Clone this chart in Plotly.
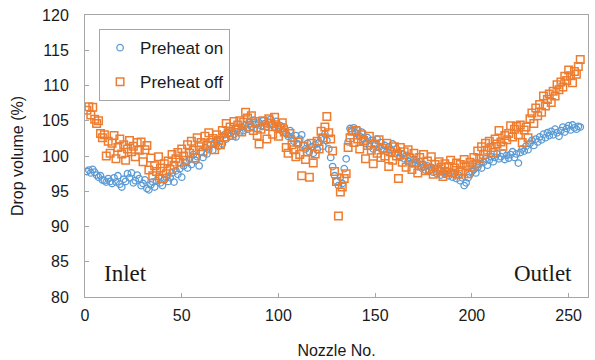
import plotly.graph_objects as go

nozzle = list(range(1, 257))

preheat_on = [
    97.8, 98.0, 97.6, 98.1, 97.7, 97.3, 97.0, 97.2, 96.6, 96.5, 96.3, 96.8, 96.4, 96.1, 96.9, 96.3,
    97.2, 96.0, 95.6, 96.7, 96.4, 97.5, 96.9, 97.6, 96.2, 96.5, 97.3, 96.8, 95.8, 96.1, 96.6, 95.4,
    95.2, 95.9, 96.3, 95.6, 96.5, 97.1, 96.2, 95.8, 96.6, 97.0, 96.4, 96.9, 97.6, 96.3, 97.9, 97.4,
    98.2, 97.0, 98.6, 99.1, 98.3, 99.5, 98.8, 100.2, 99.4, 99.9, 98.6, 100.6, 99.8, 101.2, 100.3, 100.9,
    101.6, 100.8, 101.9, 102.3, 101.4, 102.6, 101.7, 103.0, 102.4, 103.3, 102.8, 103.6, 103.1, 102.7, 103.9, 103.4,
    104.1, 103.6, 104.4, 103.8, 104.9, 104.2, 105.1, 104.5, 103.9, 104.7, 104.3, 105.0, 104.6, 104.1, 104.8, 105.2,
    104.5, 104.0, 104.9, 103.8, 104.3, 103.5, 104.1, 103.2, 102.8, 103.6, 102.5, 102.1, 102.9, 101.7, 102.4, 103.0,
    101.5, 101.0, 101.8, 100.6, 101.3, 100.4, 101.6, 100.9, 101.9, 102.5, 101.4, 103.1, 102.2, 101.0, 99.8, 98.5,
    97.2, 96.4, 95.8, 97.0, 96.1, 98.2, 99.6, 102.0, 103.9, 103.5, 104.0, 103.2, 103.7, 102.8, 103.4, 102.5,
    101.8, 102.6, 101.4, 102.2, 101.0, 101.7, 102.4, 101.2, 101.9, 100.8, 101.5, 100.6, 101.3, 100.9, 101.7, 100.4,
    101.0, 100.5, 99.8, 100.3, 99.6, 100.1, 99.2, 99.8, 98.9, 99.5, 99.0, 98.5, 99.2, 98.3, 98.8, 98.0,
    98.6, 97.9, 98.4, 97.7, 98.2, 97.5, 98.0, 97.3, 97.8, 97.4, 97.9, 97.2, 97.6, 97.0, 97.5, 96.8,
    97.3, 96.5, 96.9, 95.8, 96.2, 96.9, 97.4, 97.8, 98.1, 97.6, 98.4, 98.9, 98.3, 99.1, 99.6, 98.7,
    99.4, 99.9, 99.2, 99.8, 100.3, 99.6, 99.9, 100.4, 99.5, 100.1, 99.7, 100.2, 100.6, 99.8, 100.3, 99.0,
    100.5, 101.0, 100.7, 101.4, 100.9, 101.8, 102.2, 101.5, 102.4, 102.0, 102.7, 102.3, 103.1, 102.6, 103.3, 102.9,
    103.5, 103.0, 103.8, 103.3, 102.8, 103.6, 104.1, 103.4, 103.9, 104.3, 103.7, 104.4, 104.0, 103.8, 104.2, 104.1,
]

preheat_off = [
    106.5, 107.0, 105.8, 106.9, 105.2, 104.6, 105.0, 103.2, 102.6, 103.0, 100.0, 102.1, 100.4, 101.8, 102.9, 99.6,
    101.2, 102.4, 100.3, 101.6, 99.4, 101.0, 102.2, 100.6, 101.4, 99.9, 101.9, 100.8, 102.0, 99.2, 100.9, 101.5,
    98.0, 99.7, 97.2, 98.6, 97.8, 99.9, 98.3, 96.8, 98.9, 97.5, 99.3, 98.1, 100.2, 98.7, 99.6, 100.5,
    99.1, 101.0, 100.0, 99.4, 101.6, 100.4, 102.1, 100.8, 99.7, 102.6, 101.3, 101.9, 100.6, 102.8, 101.5, 103.3,
    101.9, 102.5, 100.9, 103.0, 102.2, 101.6, 103.6, 102.7, 104.6, 103.3, 104.1, 102.9, 104.9, 103.7, 104.4, 105.0,
    103.4, 104.8, 106.2, 105.4, 104.1, 105.7, 103.6, 104.9, 102.9, 101.7, 103.8, 105.0, 104.3, 102.4, 105.3, 104.6,
    103.1, 105.5, 104.2, 102.8, 104.0, 104.7, 103.4, 101.2, 100.4, 103.2, 101.6, 100.9, 99.9, 102.0, 100.2, 97.2,
    101.4, 99.5, 100.6, 97.0, 101.8, 99.0, 100.3, 102.1, 101.0, 103.5, 102.6, 104.1, 105.6, 103.3, 102.4, 100.7,
    97.8, 96.4, 91.5, 94.9, 95.6, 96.8, 97.5, 101.2, 102.6, 103.5, 101.9, 103.6, 102.4, 101.0, 103.0, 102.2,
    99.6, 101.5, 102.8, 100.8, 98.9, 101.7, 100.4, 102.3, 99.8, 101.1, 100.0, 101.8, 98.5, 100.6, 99.4, 101.3,
    100.0, 96.8, 101.2, 99.1, 100.6, 98.4, 100.9, 99.7, 98.1, 100.4, 99.0, 97.6, 99.8, 98.6, 100.2, 97.9,
    99.3, 98.2, 99.9, 97.4, 98.8, 97.9, 99.2, 98.4, 97.1, 98.9, 97.7, 98.5, 99.4, 97.6, 98.3, 99.0,
    97.4, 98.8, 97.9, 99.5, 98.6, 97.5, 99.1, 98.4, 99.8, 98.9, 100.7, 99.6, 101.3, 100.2, 101.8, 100.8,
    102.1, 101.2, 100.5, 102.4, 101.7, 103.6, 102.0, 101.4, 102.9, 102.3, 103.2, 104.3, 102.7, 103.8, 104.2, 103.0,
    104.4, 101.9, 103.7, 104.1, 102.6, 105.3, 106.1, 104.6, 106.8, 105.7, 107.3, 106.2, 108.5, 107.1, 108.0, 108.8,
    107.6, 109.2, 108.5, 110.1, 109.4, 110.5, 109.8, 111.3, 110.7, 112.2, 111.4, 110.4, 112.0, 111.6, 112.7, 113.7,
]

x_ticks = [0, 50, 100, 150, 200, 250]
y_ticks = [80, 85, 90, 95, 100, 105, 110, 115, 120]

BLUE = "#5B9BD5"
ORANGE = "#ED7D31"
AXIS = "#A6A6A6"
TXT = "#1a1a1a"

fig = go.Figure()
fig.add_trace(go.Scatter(
    x=nozzle, y=preheat_on, mode="markers", name="Preheat on", legendgroup="a",
    marker=dict(symbol="circle-open", size=6.5, color=BLUE, line=dict(width=1.3, color=BLUE)),
))
fig.add_trace(go.Scatter(
    x=nozzle, y=preheat_off, mode="markers", name="Preheat off", legendgroup="b",
    marker=dict(symbol="square-open", size=7.5, color=ORANGE, line=dict(width=1.5, color=ORANGE)),
))

fig.add_annotation(x=9, y=83.3, text="Inlet", showarrow=False, xanchor="left",
                   font=dict(family="Liberation Serif", size=23, color=TXT))
fig.add_annotation(x=253, y=83.3, text="Outlet", showarrow=False, xanchor="right",
                   font=dict(family="Liberation Serif", size=23, color=TXT))

fig.update_layout(
    width=595, height=360,
    margin=dict(l=85, r=7, t=15, b=63),
    paper_bgcolor="white", plot_bgcolor="white",
    font=dict(family="Liberation Sans, Arial", size=16, color=TXT),
    legend=dict(
        x=0.028, y=0.95, xanchor="left", yanchor="top",
        bordercolor="#A6A6A6", borderwidth=1, bgcolor="white",
        font=dict(size=17, color=TXT),
        traceorder="grouped", tracegroupgap=9,
    ),
    xaxis=dict(
        range=[0, 260], tickvals=x_ticks, showgrid=False, zeroline=False,
        showline=True, linecolor=AXIS, linewidth=1, mirror=True,
        ticks="inside", ticklen=4, tickcolor=AXIS,
        tickfont=dict(size=16, color=TXT), ticklabelstandoff=4,
        automargin=False,
        title=dict(text="Nozzle No.", font=dict(size=16, color=TXT), standoff=21),
    ),
    yaxis=dict(
        range=[80, 120], tickvals=y_ticks, showgrid=False, zeroline=False,
        showline=True, linecolor=AXIS, linewidth=1, mirror=True,
        ticks="inside", ticklen=4, tickcolor=AXIS,
        tickfont=dict(size=16, color=TXT), ticklabelstandoff=12,
        automargin=False,
        title=dict(text="Drop volume (%)", font=dict(size=16, color=TXT), standoff=14),
    ),
)

fig.write_html("out.html", config={"displayModeBar": False},
               post_script="document.body.style.margin='0';")
